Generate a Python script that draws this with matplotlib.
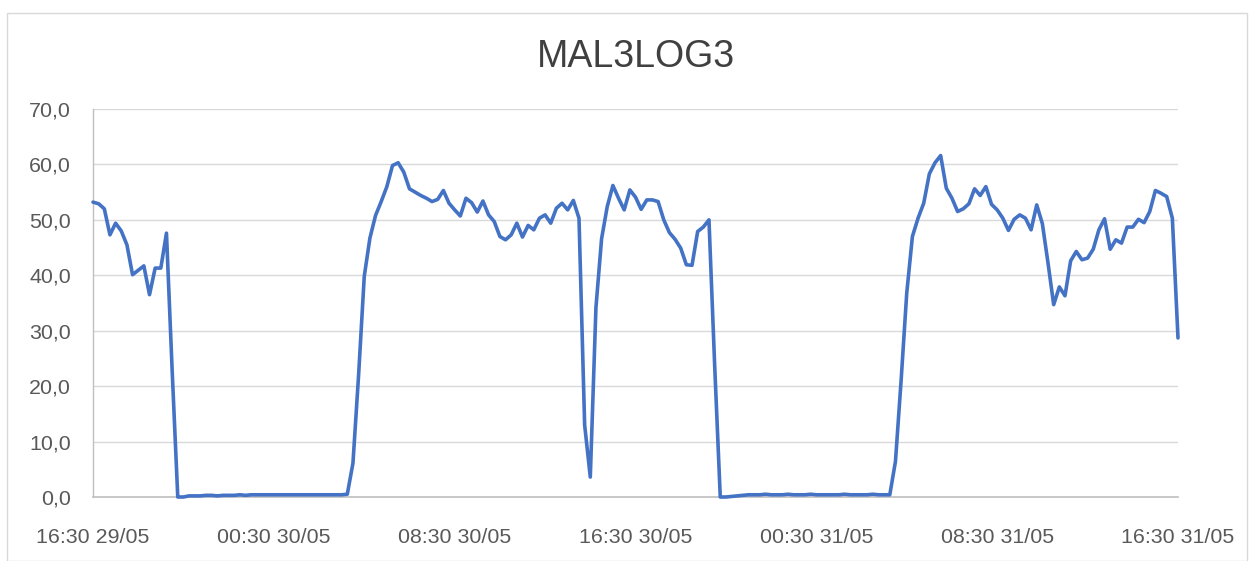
import matplotlib
matplotlib.use("Agg")
import matplotlib.pyplot as plt
from matplotlib.patches import Rectangle
from matplotlib.ticker import FuncFormatter

title = "MAL3LOG3"
tick_labels = ["16:30 29/05", "00:30 30/05", "08:30 30/05", "16:30 30/05",
               "00:30 31/05", "08:30 31/05", "16:30 31/05"]
tick_positions = [0, 32, 64, 96, 128, 160, 192]  # sample index (15-min steps)
y_ticks = [0, 10, 20, 30, 40, 50, 60, 70]

seg_a = [53.2, 52.9, 52.0, 47.3, 49.4, 48.0, 45.5, 40.1, 40.9, 41.7, 36.5, 41.3,
         41.3, 47.6, 23.0]
seg_b = [0.0, 0.0, 0.2, 0.2, 0.2, 0.3, 0.3, 0.2, 0.3, 0.3, 0.3, 0.4, 0.3, 0.4,
         0.4, 0.4, 0.4, 0.4, 0.4, 0.4, 0.4, 0.4, 0.4, 0.4, 0.4, 0.4, 0.4, 0.4,
         0.4, 0.4, 0.5]
seg_c = [6.1, 22.0, 39.8, 46.7, 50.8, 53.3, 56.0, 59.8, 60.3, 58.6, 55.6, 55.0,
         54.4, 53.9, 53.3, 53.7, 55.3, 53.0, 51.8, 50.7, 53.9, 53.1, 51.4, 53.4,
         50.9, 49.7, 47.0, 46.4, 47.3, 49.4, 46.9, 49.0, 48.2, 50.3, 50.9, 49.4,
         52.1, 53.0, 51.8, 53.5, 50.3, 13.0, 3.6, 34.2, 46.6, 52.4, 56.2, 53.9,
         51.8, 55.4, 54.1, 51.9, 53.6, 53.6, 53.3, 50.0, 47.7, 46.5, 44.9, 41.9,
         41.8, 47.9, 48.7, 50.0, 24.0]
seg_d = [0.0, 0.0, 0.1, 0.2, 0.3, 0.4, 0.4, 0.4, 0.5, 0.4, 0.4, 0.4, 0.5, 0.4,
         0.4, 0.4, 0.5, 0.4, 0.4, 0.4, 0.4, 0.4, 0.5, 0.4, 0.4, 0.4, 0.4, 0.5,
         0.4, 0.4, 0.4]
seg_e = [6.4, 21.0, 36.8, 47.0, 50.3, 53.0, 58.3, 60.3, 61.6, 55.7, 53.9, 51.5,
         52.0, 52.9, 55.6, 54.4, 56.0, 52.8, 51.8, 50.3, 48.1, 50.1, 50.9, 50.3,
         48.2, 52.7, 49.3, 42.2, 34.7, 37.9, 36.3, 42.6, 44.3, 42.8, 43.1, 44.7,
         48.2, 50.2, 44.7, 46.4, 45.8, 48.7, 48.7, 50.1, 49.5, 51.5, 55.3, 54.8,
         54.2, 50.3, 28.7]

values = seg_a + seg_b + seg_c + seg_d + seg_e
x = list(range(len(values)))

W, H = 1254, 561
fig = plt.figure(figsize=(W / 100, H / 100), dpi=100)
fig.patch.set_facecolor("white")

# chart area border
fig.patches.append(Rectangle((7 / W, 0), (1247 - 7) / W, (H - 13) / H,
                             transform=fig.transFigure, fill=False,
                             edgecolor="#D9D9D9", linewidth=1.0))

ax = fig.add_axes([93 / W, (H - 497) / H, (1178 - 93) / W, (497 - 109) / H])
ax.plot(x, values, color="#4472C4", linewidth=2.6, solid_joinstyle="round",
        solid_capstyle="round", zorder=3, clip_on=False)

ax.set_xlim(0, 192)
ax.set_ylim(0, 70)
ax.set_yticks(y_ticks)
ax.yaxis.set_major_formatter(FuncFormatter(lambda v, p: f"{v:.1f}".replace(".", ",")))
ax.set_xticks(tick_positions)
ax.set_xticklabels(tick_labels)

for s in ["top", "right"]:
    ax.spines[s].set_visible(False)
ax.spines["left"].set_color("#BFBFBF")
ax.spines["bottom"].set_color("#BFBFBF")
ax.spines["left"].set_linewidth(1.0)
ax.spines["bottom"].set_linewidth(1.2)

ax.grid(axis="y", color="#D9D9D9", linewidth=1.0)
ax.set_axisbelow(True)

ax.tick_params(axis="both", length=0, labelsize=15.4, labelcolor="#595959")
ax.tick_params(axis="y", pad=16)
ax.tick_params(axis="x", pad=22.5)
for lbl in ax.get_xticklabels() + ax.get_yticklabels():
    lbl.set_fontfamily("Liberation Sans")

fig.text(636 / W, 1 - 57 / H, title, ha="center", va="center",
         fontsize=27, color="#404040", family="Liberation Sans")

fig.savefig("out.png", dpi=100)
